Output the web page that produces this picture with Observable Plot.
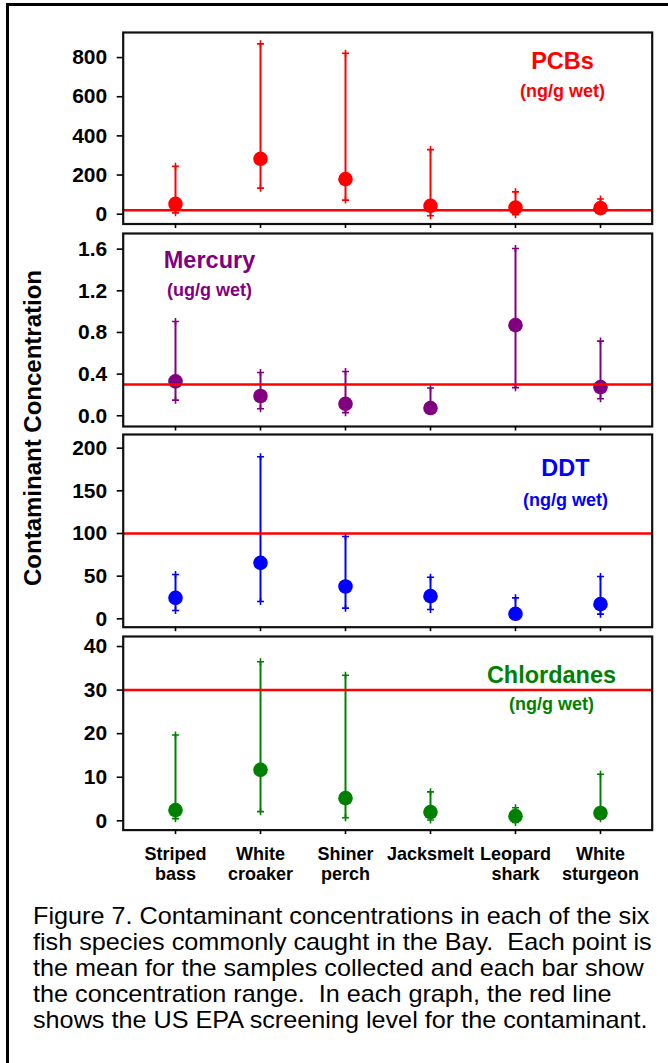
<!DOCTYPE html>
<html><head><meta charset="utf-8">
<script src="https://cdn.jsdelivr.net/npm/d3@7"></script>
<script src="https://cdn.jsdelivr.net/npm/@observablehq/plot@0.6"></script>
<style>
body{margin:0;background:#fff;}
#wrap{position:relative;width:668px;height:1063px;overflow:hidden;font-family:"Liberation Sans",Arial,sans-serif;background:#fff;}
#border{position:absolute;left:6px;top:3px;width:720px;height:1120px;border:3px solid #000;box-sizing:border-box;}
.panel{position:absolute;left:0;}
#ytitle{position:absolute;left:33px;top:427.5px;transform:translate(-50%,-50%) rotate(-90deg);white-space:nowrap;font-weight:bold;font-size:24px;color:#000;}
#caption{position:absolute;left:33px;top:903px;font-size:24px;line-height:26px;white-space:pre;color:#000;transform:scaleX(1.05);transform-origin:0 0;}
</style></head><body><div id="wrap"><div id="border"></div><div id="ytitle">Contaminant Concentration</div><div id="caption"></div></div>
<script>
// ---- data ----
const species = ["Striped\nbass", "White\ncroaker", "Shiner\nperch", "Jacksmelt", "Leopard\nshark", "White\nsturgeon"];

const pcbMean = [53, 283, 179, 43, 34, 31];
const pcbMin  = [7, 133, 72, -8, -3, 22];
const pcbMax  = [245, 870, 822, 330, 114, 78];

const hgMean = [0.33, 0.19, 0.115, 0.074, 0.87, 0.275];
const hgMin  = [0.15, 0.067, 0.03, 0.065, 0.27, 0.163];
const hgMax  = [0.905, 0.416, 0.425, 0.266, 1.606, 0.717];

const ddtMean = [24.6, 65.6, 37.9, 26.6, 5.9, 17.2];
const ddtMin  = [9.8, 20.3, 12.5, 10.9, 3, 5.5];
const ddtMax  = [52, 190, 96.5, 48.8, 24.6, 49.6];

const chlMean = [2.45, 11.7, 5.2, 2.0, 1.07, 1.8];
const chlMin  = [0.5, 2.1, 0.7, 0.2, -0.4, 0.5];
const chlMax  = [19.7, 36.5, 33.4, 6.65, 3.0, 10.7];

const screening = [20, 0.3, 100, 30];
const contaminants = ["PCBs", "Mercury", "DDT", "Chlordanes"];
const units = ["(ng/g wet)", "(ug/g wet)", "(ng/g wet)", "(ng/g wet)"];
const pcbTicks = [0, 200, 400, 600, 800];
const hgTicks = [0, 0.4, 0.8, 1.2, 1.6];
const ddtTicks = [0, 50, 100, 150, 200];
const chlTicks = [0, 10, 20, 30, 40];

const captionLines = [
  "Figure 7. Contaminant concentrations in each of the six",
  "fish species commonly caught in the Bay.  Each point is",
  "the mean for the samples collected and each bar show",
  "the concentration range.  In each graph, the red line",
  "shows the US EPA screening level for the contaminant."
];

// ---- layout / style config ----
const panels = [
  {mean: pcbMean, min: pcbMin, max: pcbMax, ticks: pcbTicks, fmt: d3.format("d"), domain: [-50, 928],
   color: "#ff0000", top: 31.5, bottom: 223, anchor: "top-right", tdx: -89.7, tdy: 36.8, udy: 64.5},
  {mean: hgMean, min: hgMin, max: hgMax, ticks: hgTicks, fmt: d3.format(".1f"), domain: [-0.103, 1.75],
   color: "#800080", top: 232.7, bottom: 425.7, anchor: "top-left", tdx: 86.3, tdy: 34, udy: 62.3},
  {mean: ddtMean, min: ddtMin, max: ddtMax, ticks: ddtTicks, fmt: d3.format("d"), domain: [-9.8, 216],
   color: "#0000ff", top: 434, bottom: 626.7, anchor: "top-right", tdx: -86.7, tdy: 41, udy: 71},
  {mean: chlMean, min: chlMin, max: chlMax, ticks: chlTicks, fmt: d3.format("d"), domain: [-2.13, 42.3],
   color: "#008000", top: 635.7, bottom: 829.3, anchor: "top-right", tdx: -100.7, tdy: 46, udy: 73.3}
];

const wrap = document.getElementById("wrap");
const FONT = '"Liberation Sans", Arial, sans-serif';

panels.forEach((p, i) => {
  const last = i === panels.length - 1;
  const mt = 8, mb = last ? 64 : 8;
  const rows = species.map((s, k) => ({species: s, mean: p.mean[k], min: p.min[k], max: p.max[k]}));
  const titleSize = 23.5, unitSize = 18;
  const chart = Plot.plot({
    width: 668,
    height: (p.bottom - p.top) + mt + mb,
    marginLeft: 122.7, marginRight: 16.3, marginTop: mt, marginBottom: mb,
    style: {background: "transparent", fontFamily: FONT, fontWeight: "bold", color: "#000", overflow: "visible"},
    x: {type: "point", domain: species, padding: 0.59, label: null},
    y: {domain: p.domain, label: null},
    marks: [
      Plot.ruleX(rows, {x: "species", y1: "min", y2: "max", stroke: p.color, strokeWidth: 2}),
      Plot.dot(rows, {x: "species", y: "max", symbol: "plus", r: 2.4, stroke: p.color, strokeWidth: 1.6}),
      Plot.dot(rows, {x: "species", y: "min", symbol: "plus", r: 2.4, stroke: p.color, strokeWidth: 1.6}),
      Plot.dot(rows, {x: "species", y: "mean", r: 7.3, fill: p.color, stroke: "none"}),
      Plot.ruleY([screening[i]], {stroke: "#ff0000", strokeWidth: 2.5}),
      Plot.frame({stroke: "#111", strokeWidth: 2.2}),
      Plot.axisY({ticks: p.ticks, tickFormat: p.fmt, tickSize: 6, tickPadding: 10, fontSize: 21, fontWeight: "bold", label: null, stroke: "#000", strokeWidth: 1.6}),
      Plot.axisX({tickSize: 4.5, tickPadding: 11, fontSize: 18, fontWeight: "bold", lineHeight: 1.12, label: null,
                  strokeWidth: 1.6, tickFormat: last ? (d => d) : (() => "")}),
      Plot.text([contaminants[i]], {frameAnchor: p.anchor, dx: p.tdx, dy: p.tdy - 0.32 * titleSize, textAnchor: "middle", lineAnchor: "middle",
                  fill: p.color, fontSize: titleSize, fontWeight: "bold"}),
      Plot.text([units[i]], {frameAnchor: p.anchor, dx: p.tdx, dy: p.udy - 0.32 * unitSize, textAnchor: "middle", lineAnchor: "middle",
                  fill: p.color, fontSize: unitSize, fontWeight: "bold"})
    ]
  });
  chart.classList.add("panel");
  chart.style.position = "absolute";
  chart.style.top = (p.top - mt) + "px";
  chart.style.left = "0px";
  wrap.appendChild(chart);
});

document.getElementById("caption").textContent = captionLines.join("\n");
</script>
</body></html>
